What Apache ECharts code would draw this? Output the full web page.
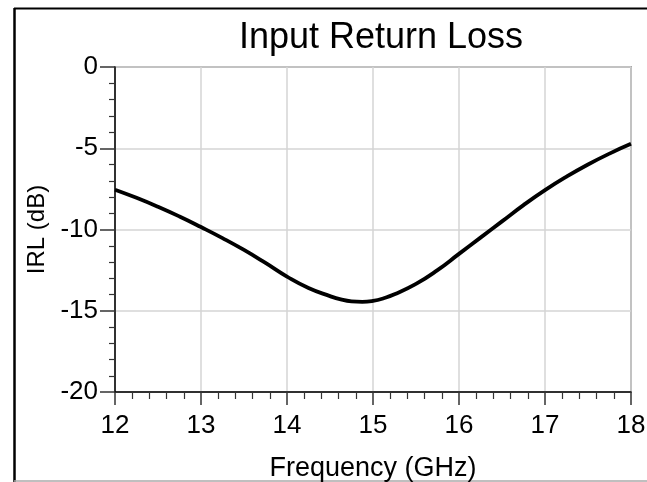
<!DOCTYPE html>
<html>
<head>
<meta charset="utf-8">
<script src="https://cdn.jsdelivr.net/npm/echarts@6/dist/echarts.min.js"></script>
<style>html,body{margin:0;padding:0;background:#fff;}#c{width:647px;height:482px;}</style>
</head>
<body>
<div id="c"></div>
<script>
const titleText = 'Input Return Loss';
const xName = 'Frequency (GHz)';
const yName = 'IRL (dB)';
const freqGHz = [12, 12.25, 12.5, 12.75, 13, 13.25, 13.5, 13.75, 14, 14.25, 14.5, 14.625, 14.75, 14.875, 15, 15.125, 15.25, 15.5, 15.75, 16, 16.25, 16.5, 16.75, 17, 17.25, 17.5, 17.75, 18];
const irlDb = [-7.55, -8.05, -8.6, -9.2, -9.85, -10.53, -11.26, -12.06, -12.9, -13.6, -14.1, -14.3, -14.42, -14.45, -14.39, -14.23, -13.99, -13.35, -12.5, -11.5, -10.5, -9.5, -8.5, -7.58, -6.75, -6.0, -5.33, -4.73];
const xTicks = [12, 13, 14, 15, 16, 17, 18];
const yTicks = [-20, -15, -10, -5, 0];

const font = 'Liberation Sans, Arial, sans-serif';
const chart = echarts.init(document.getElementById('c'), null, {renderer: 'canvas'});
chart.setOption({
  animation: false,
  backgroundColor: '#fff',
  title: {
    text: titleText, left: 376, textAlign: 'center', top: 15,
    textStyle: {fontFamily: font, fontSize: 36, fontWeight: 'normal', color: '#000'}
  },
  grid: {left: 115, top: 67, right: 16, bottom: 90, show: true, borderColor: '#666', borderWidth: 1.5, containLabel: false, outerBoundsMode: 'none'},
  xAxis: {
    type: 'value', min: xTicks[0], max: xTicks[xTicks.length - 1], interval: 1,
    name: xName, nameLocation: 'middle', nameGap: 63,
    nameTextStyle: {fontFamily: font, fontSize: 27, color: '#000'},
    axisLine: {show: true, onZero: false, lineStyle: {color: '#000', width: 1.5}},
    axisTick: {show: true, inside: false, length: 13, lineStyle: {color: '#333', width: 1.5}},
    minorTick: {show: true, splitNumber: 5, length: 7, lineStyle: {color: '#333', width: 1.2}},
    splitLine: {show: true, lineStyle: {color: '#d4d4d4', width: 1.5}},
    axisLabel: {fontFamily: font, fontSize: 26, color: '#000', margin: 21}
  },
  yAxis: {
    type: 'value', min: yTicks[0], max: yTicks[yTicks.length - 1], interval: 5,
    name: yName, nameLocation: 'middle', nameGap: 66,
    nameTextStyle: {fontFamily: font, fontSize: 24, color: '#000'},
    axisLine: {show: true, onZero: false, lineStyle: {color: '#000', width: 1.5}},
    axisTick: {show: true, inside: false, length: 15, lineStyle: {color: '#333', width: 1.5}},
    minorTick: {show: true, splitNumber: 5, length: 6, lineStyle: {color: '#333', width: 1.2}},
    splitLine: {show: true, lineStyle: {color: '#d4d4d4', width: 1.5}},
    axisLabel: {fontFamily: font, fontSize: 26, color: '#000', margin: 17}
  },
  series: [{
    type: 'line', smooth: 0.5, symbol: 'none',
    data: freqGHz.map((f, i) => [f, irlDb[i]]),
    lineStyle: {color: '#000', width: 3.8}
  }],
  graphic: [
    {type: 'line', shape: {x1: 14.5, y1: 8, x2: 14.5, y2: 482}, style: {stroke: '#000', lineWidth: 2.5}},
    {type: 'line', shape: {x1: 14, y1: 8.5, x2: 647, y2: 8.5}, style: {stroke: '#000', lineWidth: 2}},
    {type: 'line', shape: {x1: 14, y1: 481, x2: 647, y2: 481}, style: {stroke: '#aaa', lineWidth: 1.5}}
  ]
});
</script>
</body>
</html>
